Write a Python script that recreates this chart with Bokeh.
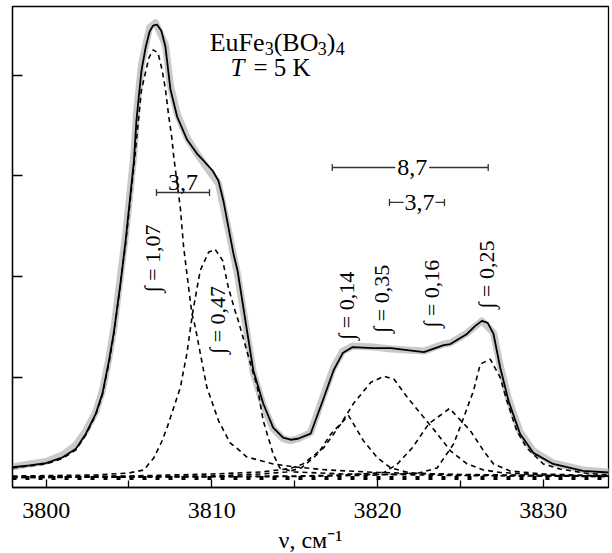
from bokeh.plotting import figure
from bokeh.models import Range1d, FixedTicker, Label, CustomJSTickFormatter
from bokeh.embed import file_html
from bokeh.resources import INLINE

# ---------------- data (wavenumber, cm^-1 ; intensity, arb. units) ----------------
nu_exp = [3797.97, 3799.0, 3800.0, 3801.0, 3801.8, 3802.4, 3803.0, 3803.4, 3803.8, 3804.1,
          3804.8, 3805.3, 3805.45, 3805.75, 3806.24, 3806.6, 3807.2, 3807.5, 3807.9, 3808.5,
          3809.1, 3809.7, 3810.4, 3811.0, 3811.55, 3812.0, 3812.5, 3813.1, 3813.7, 3814.3,
          3814.75, 3815.2, 3815.96, 3816.7, 3817.35, 3817.9, 3818.5, 3819.75, 3820.8, 3821.8,
          3822.8, 3824.0, 3824.4, 3825.4, 3826.3, 3827.0, 3827.4, 3827.9, 3828.6, 3829.4,
          3830.6, 3832.4, 3833.94]
i_exp = [0.11, 0.14, 0.165, 0.23, 0.33, 0.47, 0.66, 0.87, 1.20, 1.50,
         2.42, 3.22, 3.62, 4.10, 4.47, 4.52, 4.30, 3.90, 3.62, 3.38,
         3.22, 3.08, 2.92, 2.46, 2.02, 1.56, 1.05, 0.72, 0.49, 0.39,
         0.37, 0.39, 0.45, 0.80, 1.10, 1.26, 1.31, 1.30, 1.28, 1.27,
         1.26, 1.33, 1.34, 1.44, 1.56, 1.44, 1.12, 0.79, 0.46, 0.27,
         0.15, 0.08, 0.06]

nu_fit = [3797.97, 3799.0, 3800.0, 3801.0, 3801.8, 3802.4, 3803.0, 3803.4, 3803.8, 3804.1,
          3804.5, 3804.8, 3805.3, 3805.45, 3805.75, 3806.0, 3806.24, 3806.45, 3806.7, 3806.95,
          3807.2, 3807.5, 3807.9, 3808.5, 3809.1, 3809.5, 3810.05, 3810.4, 3810.7, 3811.0,
          3811.3, 3811.55, 3812.0, 3812.5, 3813.1, 3813.7, 3814.3, 3814.75, 3815.2, 3815.96,
          3816.7, 3817.35, 3817.9, 3818.5, 3819.75, 3820.8, 3821.8, 3822.8, 3824.0, 3824.4,
          3825.4, 3825.9, 3826.3, 3826.65, 3827.0, 3827.4, 3827.9, 3828.6, 3829.4, 3830.6,
          3832.4, 3833.94]
i_fit = [0.107, 0.125, 0.147, 0.206, 0.29, 0.44, 0.64, 0.84, 1.17, 1.46,
         1.95, 2.36, 3.15, 3.55, 4.04, 4.27, 4.43, 4.49, 4.50, 4.44,
         4.28, 3.86, 3.59, 3.36, 3.22, 3.15, 3.05, 2.95, 2.75, 2.49,
         2.23, 2.06, 1.59, 1.07, 0.74, 0.50, 0.40, 0.38, 0.39, 0.44,
         0.77, 1.07, 1.24, 1.30, 1.29, 1.29, 1.27, 1.25, 1.32, 1.33,
         1.43, 1.51, 1.56, 1.54, 1.43, 1.10, 0.77, 0.44, 0.25, 0.14,
         0.07, 0.055]

# component 1 (integral 1.07)
nu_c1 = [3797.97, 3799.0, 3800.0, 3801.0, 3801.8, 3802.4, 3803.0, 3803.4, 3803.8, 3804.1,
         3804.8, 3805.3, 3805.75, 3806.2, 3806.45, 3806.75, 3807.0, 3807.2, 3807.4, 3807.6,
         3807.7, 3808.1, 3808.3, 3808.6, 3808.8, 3809.0, 3809.3, 3809.7, 3810.4, 3811.1,
         3811.7, 3812.1, 3813.7, 3815.0, 3817.0, 3820.0, 3825.0, 3833.94]
i_c1 = [0.10, 0.12, 0.14, 0.195, 0.28, 0.43, 0.63, 0.83, 1.15, 1.44,
        2.33, 3.10, 3.85, 4.17, 4.25, 4.22, 4.05, 3.86, 3.59, 3.36,
        3.19, 2.68, 2.29, 1.89, 1.63, 1.50, 1.24, 0.90, 0.57, 0.35,
        0.27, 0.21, 0.14, 0.11, 0.08, 0.055, 0.035, 0.02]

# component 2 (integral 0.47)
nu_c2 = [3797.97, 3803.0, 3805.0, 3805.9, 3806.5, 3807.0, 3807.3, 3808.1, 3808.5, 3808.85,
         3809.3, 3809.8, 3810.2, 3810.65, 3811.0, 3811.4, 3811.6, 3812.15, 3812.75, 3813.1,
         3813.7, 3814.1, 3815.0, 3818.0, 3825.0, 3833.94]
i_c2 = [0.02, 0.03, 0.05, 0.08, 0.20, 0.37, 0.50, 0.90, 1.24, 1.65,
        2.06, 2.24, 2.27, 2.16, 1.89, 1.66, 1.56, 1.24, 0.90, 0.57,
        0.24, 0.10, 0.06, 0.04, 0.025, 0.015]

# component 3 (integral 0.14)
nu_c3 = [3797.97, 3810.0, 3813.0, 3814.5, 3815.4, 3816.4, 3817.2, 3818.25, 3819.15, 3820.0,
         3820.8, 3822.0, 3825.0, 3833.94]
i_c3 = [0.01, 0.02, 0.04, 0.06, 0.10, 0.24, 0.44, 0.62, 0.37, 0.20,
        0.10, 0.05, 0.03, 0.015]

# component 4 (integral 0.35)
nu_c4 = [3797.97, 3805.0, 3810.0, 3813.0, 3814.75, 3815.5, 3816.75, 3817.8, 3818.55, 3819.6,
         3820.4, 3821.0, 3821.8, 3822.8, 3823.6, 3824.4, 3825.4, 3826.4, 3827.4, 3830.0,
         3833.94]
i_c4 = [0.01, 0.02, 0.04, 0.06, 0.095, 0.14, 0.30, 0.54, 0.74, 0.95,
        1.01, 0.98, 0.80, 0.60, 0.44, 0.27, 0.14, 0.08, 0.055, 0.03,
        0.02]

# component 5 (integral 0.16)
nu_c5 = [3797.97, 3815.0, 3818.0, 3820.4, 3821.2, 3822.1, 3823.1, 3824.35, 3825.6, 3826.4,
         3827.0, 3828.0, 3830.0, 3833.94]
i_c5 = [0.005, 0.02, 0.03, 0.055, 0.14, 0.30, 0.54, 0.69, 0.47, 0.27,
        0.14, 0.07, 0.04, 0.02]

# component 6 (integral 0.25)
nu_c6 = [3797.97, 3815.0, 3820.0, 3822.5, 3823.6, 3824.6, 3825.2, 3825.8, 3826.2, 3826.8,
         3827.4, 3827.8, 3828.4, 3829.0, 3830.0, 3831.0, 3832.5, 3833.94]
i_c6 = [0.005, 0.015, 0.03, 0.05, 0.10, 0.34, 0.60, 0.87, 1.13, 1.18,
        1.00, 0.77, 0.47, 0.30, 0.14, 0.09, 0.05, 0.03]

# baseline
nu_base = [3797.97, 3833.94]
i_base = [0.0, 0.0]

# ticks
x_ticks = [3800, 3810, 3820, 3830]
x_minor = [3805, 3815, 3825]
y_ticks = [1, 2, 3, 4]

# labels
comp_labels = ["∫ = 1,07", "∫ = 0,47", "∫ = 0,14", "∫ = 0,35", "∫ = 0,16", "∫ = 0,25"]
x_title = "ν, см⁻¹"

# ---------------- figure ----------------
FONT = "Liberation Serif"

p = figure(frame_width=596, frame_height=481, output_backend="svg", toolbar_location=None,
           x_range=Range1d(3797.97, 3833.94), y_range=Range1d(-0.094, 4.68),
           min_border_left=12, min_border_right=4, min_border_top=6, min_border_bottom=66)
p.grid.visible = False
p.outline_line_color = "black"
p.outline_line_width = 1.3
p.background_fill_color = "white"
p.border_fill_color = "white"

xa = p.xaxis[0]
xa.ticker = FixedTicker(ticks=x_ticks, minor_ticks=x_minor)
xa.major_tick_in = 8
xa.major_tick_out = 0
xa.minor_tick_in = 7
xa.minor_tick_out = 0
xa.major_tick_line_width = 1.3
xa.minor_tick_line_width = 1.3
xa.major_tick_line_color = "black"
xa.minor_tick_line_color = "black"
xa.axis_line_color = "black"
xa.axis_line_width = 1.3
xa.major_label_text_font = FONT
xa.major_label_text_font_size = "24px"
xa.major_label_text_color = "black"
xa.major_label_standoff = 15
xa.axis_label = x_title
xa.axis_label_text_font = FONT
xa.axis_label_text_font_size = "24px"
xa.axis_label_text_font_style = "normal"
xa.axis_label_text_color = "black"
xa.axis_label_standoff = 6

ya = p.yaxis[0]
ya.ticker = FixedTicker(ticks=y_ticks, minor_ticks=[])
ya.major_tick_in = 10
ya.major_tick_out = 0
ya.minor_tick_in = 0
ya.minor_tick_out = 0
ya.major_tick_line_width = 1.3
ya.major_tick_line_color = "black"
ya.axis_line_color = "black"
ya.axis_line_width = 1.3
ya.formatter = CustomJSTickFormatter(code="return ''")
ya.major_label_standoff = 0

# experimental spectrum (thick grey)
p.line(nu_exp, i_exp, line_color="#c9c9c9", line_width=7, line_join="round", line_cap="round")

# baseline (square dots)
p.line(nu_base, i_base, line_color="black", line_width=4, line_dash="4 9")

# components (dashed)
for xs, ys in [(nu_c1, i_c1), (nu_c2, i_c2), (nu_c3, i_c3),
               (nu_c4, i_c4), (nu_c5, i_c5), (nu_c6, i_c6)]:
    p.line(xs, ys, line_color="black", line_width=1.6, line_dash="5 4")

# fit (solid)
p.line(nu_fit, i_fit, line_color="black", line_width=1.8, line_join="round")

# ---------------- width brackets ----------------
cap = 0.035
br_x0 = [3806.66, 3817.27, 3823.12, 3820.72, 3823.50]
br_x1 = [3809.86, 3821.07, 3826.68, 3821.57, 3824.04]
br_y = [2.834, 3.082, 3.082, 2.735, 2.735]
p.segment(x0=br_x0, y0=br_y, x1=br_x1, y1=br_y, line_color="#333333", line_width=1.3)
cap_x = [3806.66, 3809.86, 3817.27, 3826.68, 3820.72, 3824.04]
cap_y = [2.834, 2.834, 3.082, 3.082, 2.735, 2.735]
p.segment(x0=cap_x, y0=[c - cap for c in cap_y], x1=cap_x, y1=[c + cap for c in cap_y],
          line_color="#333333", line_width=1.3)

def lab(x, y, text, size="24px", align="left", baseline="alphabetic", angle=0.0,
        xo=0, yo=0, style="normal"):
    p.add_layout(Label(x=x, y=y, text=text, text_font=FONT, text_font_size=size,
                       text_align=align, text_baseline=baseline, angle=angle,
                       x_offset=xo, y_offset=yo, text_color="black",
                       text_font_style=style))

lab(3808.26, 2.93, "3,7", align="center")
lab(3822.10, 3.082, "8,7", align="center", baseline="middle")
lab(3822.53, 2.735, "3,7", align="center", baseline="middle")

# ---------------- rotated integral labels ----------------
rot_x = [3806.42, 3810.34, 3818.12, 3820.24, 3823.26, 3826.58]
rot_y = [2.18, 1.57, 1.71, 1.78, 1.83, 2.02]
for xx, yy, t in zip(rot_x, rot_y, comp_labels):
    lab(xx, yy, t, size="22px", align="center", baseline="alphabetic", angle=1.5708)

# ---------------- title: EuFe3(BO3)4, T = 5 K ----------------
tx, ty = 3809.87, 4.32
lab(tx, ty, "EuFe", size="26px")
lab(tx, ty, "3", size="18px", xo=55, yo=-6)
lab(tx, ty, "(BO", size="26px", xo=64)
lab(tx, ty, "3", size="18px", xo=108, yo=-6)
lab(tx, ty, ")", size="26px", xo=117)
lab(tx, ty, "4", size="18px", xo=126, yo=-6)

lab(3811.12, 4.07, "T", size="25px", style="italic")
lab(3811.12, 4.07, "= 5 K", size="25px", xo=23)

open("out.html", "w").write(file_html(p, INLINE))
